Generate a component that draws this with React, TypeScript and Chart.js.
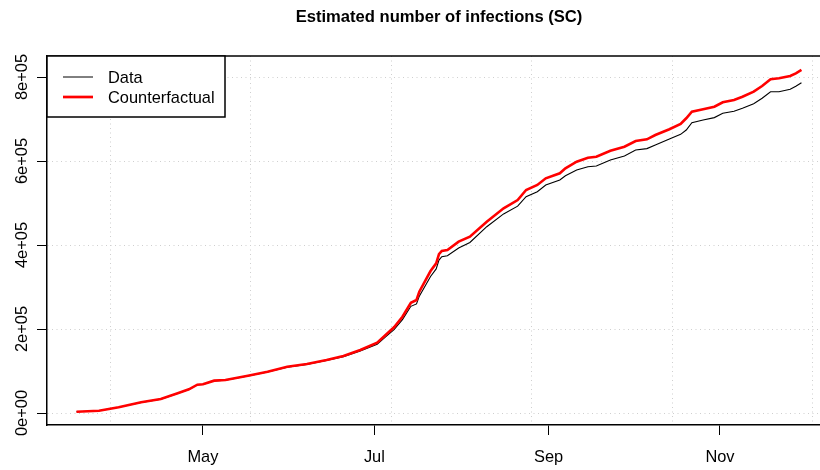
import React, { useEffect, useRef } from "react";
import { Chart, registerables } from "chart.js";

Chart.register(...registerables);

const TITLE = "Estimated number of infections (SC)";

const dates = [
  "2020-03-17", "2020-03-25", "2020-04-01", "2020-04-09", "2020-04-16", "2020-04-22",
  "2020-04-26", "2020-04-29", "2020-05-01", "2020-05-05", "2020-05-09", "2020-05-17",
  "2020-05-24", "2020-05-31", "2020-06-07", "2020-06-14", "2020-06-20", "2020-06-26",
  "2020-07-02", "2020-07-05", "2020-07-08", "2020-07-11", "2020-07-14", "2020-07-16",
  "2020-07-17", "2020-07-21", "2020-07-23", "2020-07-24", "2020-07-25", "2020-07-27",
  "2020-07-31", "2020-08-04", "2020-08-10", "2020-08-16", "2020-08-21", "2020-08-24",
  "2020-08-28", "2020-08-31", "2020-09-05", "2020-09-07", "2020-09-11", "2020-09-15",
  "2020-09-18", "2020-09-23", "2020-09-28", "2020-10-02", "2020-10-06", "2020-10-09",
  "2020-10-14", "2020-10-18", "2020-10-20", "2020-10-22", "2020-10-26", "2020-10-30",
  "2020-11-02", "2020-11-06", "2020-11-09", "2020-11-13", "2020-11-16", "2020-11-19",
  "2020-11-22", "2020-11-26", "2020-11-28", "2020-11-30",
];

const counterfactual = [
  3000, 5500, 13600, 25500, 33300, 46900,
  56400, 67400, 68300, 77000, 78600, 88800,
  98300, 110200, 116700, 126200, 135700, 150000,
  167400, 185700, 204000, 229300, 262600, 269000,
  288800, 338000, 356400, 378000, 385700, 388000,
  407900, 419800, 455500, 487400, 507000, 531000,
  542900, 558800, 570700, 582600, 598400, 607900,
  610300, 624500, 634100, 647600, 651700, 661900,
  675500, 688100, 701700, 717400, 723100, 729300,
  739800, 745300, 753100, 765000, 778600, 794500,
  796900, 802400, 808800, 816700,
];

const observed = [
  3000, 5500, 13500, 25300, 33100, 46600,
  56100, 67100, 68000, 76600, 78200, 88300,
  97700, 109300, 115600, 124800, 133900, 147600,
  163900, 181400, 198500, 222300, 254000, 259800,
  278300, 325000, 343000, 364000, 372000, 374500,
  393000, 406000, 443600, 474000, 492500, 515000,
  527000, 542900, 554800, 565000, 578600, 586500,
  588100, 602400, 612000, 626200, 629500, 638100,
  652400, 663500, 673800, 691200, 697600, 703300,
  713500, 718300, 725500, 736500, 749300, 765000,
  765000, 770700, 777800, 786500,
];

const monthTickDates = ["2020-05-01", "2020-07-01", "2020-09-01", "2020-11-01"];
const monthTickLabels = ["May", "Jul", "Sep", "Nov"];
const gridDays = [18350, 18400, 18450, 18500, 18550, 18600];
const yTicks = [0, 200000, 400000, 600000, 800000];
const yTickLabels = ["0e+00", "2e+05", "4e+05", "6e+05", "8e+05"];
const legendLabels = ["Data", "Counterfactual"];
const legendColors = ["#000000", "#ff0000"];

const FONT = "'Liberation Sans', Arial, Helvetica, sans-serif";

const dayNum = (s: string) => {
  const [y, m, d] = s.split("-").map(Number);
  return Date.UTC(y, m - 1, d) / 86400000;
};

const decor = {
  id: "decor",
  afterDraw(chart: any) {
    const { ctx, chartArea: ca, scales } = chart;
    ctx.save();
    // top border of plot box
    ctx.strokeStyle = "#000";
    ctx.lineWidth = 1.5;
    ctx.beginPath();
    ctx.moveTo(ca.left - 0.75, ca.top);
    ctx.lineTo(ca.right, ca.top);
    ctx.stroke();

    // title
    ctx.fillStyle = "#000";
    ctx.font = `bold 16.6px ${FONT}`;
    ctx.textAlign = "center";
    ctx.textBaseline = "alphabetic";
    ctx.fillText(TITLE, 439, 21.5);

    // y tick labels (rotated, R style)
    const ys = scales.y;
    ctx.font = `16.4px ${FONT}`;
    yTicks.forEach((v, i) => {
      const py = ys.getPixelForValue(v);
      ctx.save();
      ctx.translate(26.5, py);
      ctx.rotate(-Math.PI / 2);
      ctx.textAlign = "center";
      ctx.textBaseline = "alphabetic";
      ctx.fillText(yTickLabels[i], 0, 0);
      ctx.restore();
    });

    // legend box (top-left)
    const lx = ca.left;
    const ly = ca.top;
    const lw = 178;
    const lh = 61;
    ctx.fillStyle = "#fff";
    ctx.fillRect(lx, ly, lw, lh);
    ctx.strokeStyle = "#000";
    ctx.lineWidth = 1.5;
    ctx.strokeRect(lx, ly, lw, lh);
    const rows = [21, 41];
    const widths = [1, 2.7];
    legendLabels.forEach((lab, i) => {
      const y = ly + rows[i];
      ctx.strokeStyle = legendColors[i];
      ctx.lineWidth = widths[i];
      ctx.beginPath();
      ctx.moveTo(lx + 16, y);
      ctx.lineTo(lx + 46, y);
      ctx.stroke();
      ctx.fillStyle = "#000";
      ctx.font = `16.4px ${FONT}`;
      ctx.textAlign = "left";
      ctx.textBaseline = "alphabetic";
      ctx.fillText(lab, lx + 61, y + 6);
    });
    ctx.restore();
  },
};

export default function App() {
  const ref = useRef<HTMLCanvasElement | null>(null);

  useEffect(() => {
    const canvas = ref.current;
    if (!canvas) return;
    const xs = dates.map(dayNum);
    const monthDays = monthTickDates.map(dayNum);
    const chart = new Chart(canvas, {
      type: "line",
      data: {
        datasets: [
          {
            label: legendLabels[1],
            data: xs.map((x, i) => ({ x, y: counterfactual[i] })),
            borderColor: legendColors[1],
            borderWidth: 2.6,
            pointRadius: 0,
            tension: 0,
            fill: false,
            order: 0,
          },
          {
            label: legendLabels[0],
            data: xs.map((x, i) => ({ x, y: observed[i] })),
            borderColor: legendColors[0],
            borderWidth: 1.1,
            pointRadius: 0,
            tension: 0,
            fill: false,
            order: 1,
          },
        ],
      },
      options: {
        responsive: false,
        animation: false,
        devicePixelRatio: 1,
        layout: { padding: { top: 56, left: 0, right: 0, bottom: 0 } },
        plugins: {
          legend: { display: false },
          title: { display: false },
          tooltip: { enabled: false },
        },
        scales: {
          x: {
            type: "linear",
            position: "bottom",
            min: 18327.5,
            max: 18602.6,
            afterBuildTicks: (s: any) => {
              s.ticks = monthDays.map((v) => ({ value: v }));
            },
            afterFit: (s: any) => {
              s.height = 45;
            },
            ticks: {
              autoSkip: false,
              maxRotation: 0,
              minRotation: 0,
              padding: 13,
              color: "#000",
              font: { family: FONT, size: 16.4 },
              callback: (v: any) => {
                const i = monthDays.indexOf(Number(v));
                return i >= 0 ? monthTickLabels[i] : "";
              },
            },
            grid: {
              drawOnChartArea: false,
              drawTicks: true,
              tickLength: 10,
              tickColor: "#000",
              tickWidth: 1,
            },
            border: { display: true, color: "#000", width: 1.5 },
          },
          xg: {
            type: "linear",
            position: "bottom",
            min: 18327.5,
            max: 18602.6,
            afterBuildTicks: (s: any) => {
              s.ticks = gridDays.map((v) => ({ value: v }));
            },
            afterFit: (s: any) => {
              s.height = 0;
            },
            ticks: { display: false },
            grid: {
              drawOnChartArea: true,
              drawTicks: false,
              color: "#cfcfcf",
              lineWidth: 1,
            },
            border: { display: false, dash: [1, 3.5] },
          },
          y: {
            type: "linear",
            position: "left",
            min: -28571,
            max: 850000,
            afterBuildTicks: (s: any) => {
              s.ticks = yTicks.map((v) => ({ value: v }));
            },
            afterFit: (s: any) => {
              s.width = 47;
            },
            ticks: { display: false },
            grid: {
              drawOnChartArea: true,
              drawTicks: true,
              tickLength: 10,
              color: "#cfcfcf",
              lineWidth: 1,
              tickColor: "#000",
              tickWidth: 1,
              tickBorderDash: [],
            },
            border: { display: true, color: "#000", width: 1.5, dash: [1, 3.5] },
          },
        },
      },
      plugins: [decor],
    } as any);
    return () => chart.destroy();
  }, []);

  return (
    <div style={{ position: "fixed", left: 0, top: 0, width: 820, height: 470, background: "#fff" }}>
      <canvas ref={ref} width={820} height={470} style={{ display: "block", width: 820, height: 470 }} />
    </div>
  );
}
